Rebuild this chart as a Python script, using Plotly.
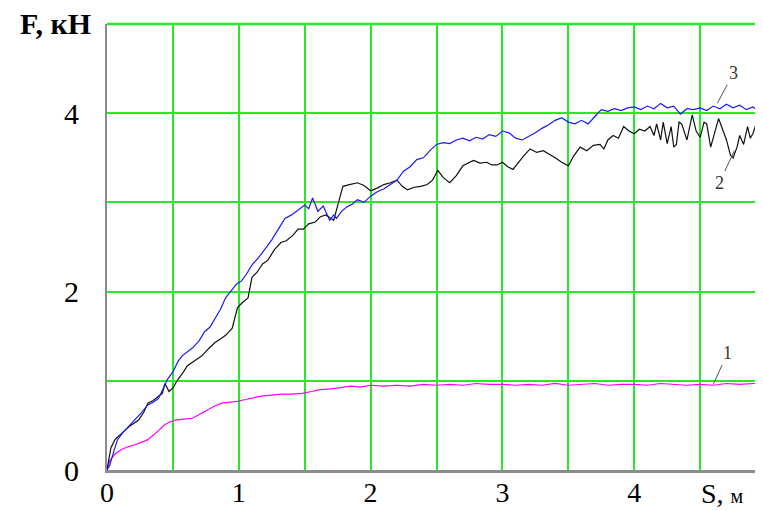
import plotly.graph_objects as go

# Curve 3 (blue)
s3 = [0, 0.02, 0.05, 0.08, 0.12, 0.16, 0.21, 0.26, 0.31, 0.35, 0.39, 0.43, 0.46, 0.5, 0.54, 0.57,
      0.61, 0.65, 0.7, 0.74, 0.78, 0.82, 0.86, 0.9, 0.94, 0.98, 1.02, 1.06, 1.1, 1.15, 1.2, 1.25,
      1.3, 1.35, 1.4, 1.45, 1.5, 1.53, 1.56, 1.6, 1.64, 1.69, 1.72, 1.74, 1.78, 1.82, 1.86, 1.9,
      1.95, 2.0, 2.05, 2.1, 2.15, 2.2, 2.25, 2.3, 2.35, 2.4, 2.45, 2.5, 2.55, 2.6, 2.65, 2.7, 2.75,
      2.8, 2.85, 2.9, 2.95, 3.0, 3.05, 3.1, 3.15, 3.2, 3.25, 3.3, 3.35, 3.4, 3.45, 3.5, 3.55, 3.6,
      3.65, 3.7, 3.75, 3.8, 3.85, 3.9, 3.95, 4.0, 4.05, 4.1, 4.15, 4.2, 4.25, 4.3, 4.35, 4.4, 4.45,
      4.5, 4.55, 4.6, 4.65, 4.7, 4.75, 4.8, 4.85, 4.9, 4.95, 4.98]
f3 = [0, 0.05, 0.2, 0.34, 0.42, 0.48, 0.56, 0.64, 0.73, 0.76, 0.8, 0.92, 1.02, 1.1, 1.22, 1.28,
      1.32, 1.37, 1.45, 1.55, 1.6, 1.7, 1.8, 1.93, 2.0, 2.08, 2.12, 2.2, 2.3, 2.38, 2.48, 2.58,
      2.7, 2.82, 2.86, 2.92, 2.97, 2.93, 3.05, 2.9, 2.96, 2.8, 2.86, 2.82, 2.9, 2.95, 2.98, 3.03,
      3.0, 3.07, 3.12, 3.15, 3.2, 3.25, 3.35, 3.4, 3.48, 3.5, 3.58, 3.65, 3.67, 3.66, 3.7, 3.72, 3.69,
      3.73, 3.71, 3.76, 3.74, 3.8, 3.78, 3.72, 3.7, 3.74, 3.78, 3.83, 3.87, 3.92, 3.95, 3.9, 3.88, 3.92,
      3.88, 3.96, 4.04, 4.02, 4.05, 4.03, 4.06, 4.07, 4.04, 4.08, 4.05, 4.11, 4.06, 4.08, 3.99, 4.05, 4.04,
      4.06, 4.03, 4.08, 4.05, 4.1, 4.06, 4.09, 4.04, 4.07, 4.02, 4.04]

# Curve 2 (black)
s2 = [0, 0.01, 0.03, 0.06, 0.1, 0.14, 0.18, 0.24, 0.28, 0.31, 0.35, 0.39, 0.42, 0.44, 0.47, 0.5,
      0.54, 0.58, 0.61, 0.66, 0.72, 0.77, 0.82, 0.86, 0.9, 0.95, 0.99, 1.03, 1.07, 1.1, 1.14, 1.18,
      1.22, 1.27, 1.32, 1.36, 1.41, 1.45, 1.49, 1.53, 1.58, 1.62, 1.66, 1.7, 1.72, 1.76, 1.79, 1.84,
      1.9, 1.95, 2.0, 2.05, 2.1, 2.15, 2.2, 2.24, 2.28, 2.33, 2.38, 2.43, 2.47, 2.51, 2.55, 2.6, 2.65,
      2.7, 2.74, 2.78, 2.83, 2.88, 2.92, 2.96, 3.0, 3.04, 3.08, 3.12, 3.16, 3.21, 3.26, 3.31, 3.36,
      3.4, 3.45, 3.5, 3.54, 3.59, 3.64, 3.69, 3.74, 3.77, 3.8, 3.84, 3.88, 3.92, 3.96, 4.0, 4.04, 4.08,
      4.12, 4.15, 4.17, 4.2, 4.22, 4.25, 4.28, 4.3, 4.32, 4.34, 4.36, 4.4, 4.44, 4.47, 4.5, 4.53, 4.55,
      4.58, 4.61, 4.64, 4.67, 4.7, 4.73, 4.75, 4.78, 4.8, 4.83, 4.86, 4.88, 4.9, 4.93, 4.96, 4.98]
f2 = [0, 0.1, 0.25, 0.34, 0.4, 0.45, 0.5, 0.56, 0.65, 0.75, 0.78, 0.82, 0.86, 0.97, 0.88, 0.92,
      1.02, 1.1, 1.17, 1.22, 1.28, 1.36, 1.43, 1.47, 1.51, 1.59, 1.82, 1.88, 1.93, 2.16, 2.22, 2.31,
      2.35, 2.47, 2.55, 2.57, 2.63, 2.7, 2.7, 2.76, 2.78, 2.84, 2.86, 2.82, 2.8, 3.02, 3.18, 3.2,
      3.22, 3.19, 3.13, 3.16, 3.2, 3.22, 3.25, 3.18, 3.14, 3.17, 3.18, 3.2, 3.25, 3.36, 3.28, 3.22, 3.3,
      3.41, 3.44, 3.47, 3.44, 3.45, 3.42, 3.42, 3.45, 3.4, 3.37, 3.45, 3.52, 3.6, 3.56, 3.58, 3.54,
      3.5, 3.45, 3.41, 3.52, 3.62, 3.58, 3.64, 3.65, 3.6, 3.7, 3.75, 3.72, 3.85, 3.8, 3.77, 3.82, 3.8,
      3.85, 3.75, 3.88, 3.7, 3.9, 3.66, 3.85, 3.62, 3.65, 3.9, 3.88, 3.7, 3.98, 3.8, 3.73, 3.9, 3.88,
      3.62, 3.78, 3.94, 3.82, 3.7, 3.53, 3.5, 3.62, 3.75, 3.65, 3.85, 3.72, 3.77, 3.9, 3.93, 3.8]

# Curve 1 (magenta)
s1 = [0, 0.02, 0.06, 0.11, 0.16, 0.21, 0.26, 0.31, 0.36, 0.4, 0.44, 0.48, 0.52, 0.58, 0.65, 0.71,
      0.77, 0.82, 0.87, 0.93, 0.99, 1.05, 1.12, 1.18, 1.25, 1.32, 1.4, 1.48, 1.55, 1.62, 1.7, 1.78,
      1.85, 1.92, 2.0, 2.1, 2.2, 2.3, 2.4, 2.5, 2.6, 2.7, 2.8, 2.9, 3.0, 3.1, 3.2, 3.3, 3.4, 3.5,
      3.6, 3.7, 3.8, 3.9, 4.0, 4.1, 4.2, 4.3, 4.4, 4.5, 4.6, 4.7, 4.8, 4.9, 4.98]
f1 = [0, 0.1, 0.18, 0.23, 0.26, 0.28, 0.31, 0.34, 0.4, 0.46, 0.51, 0.54, 0.56, 0.57, 0.58, 0.63,
      0.68, 0.72, 0.75, 0.76, 0.77, 0.79, 0.81, 0.83, 0.84, 0.85, 0.85, 0.86, 0.88, 0.9, 0.91, 0.93,
      0.94, 0.93, 0.95, 0.94, 0.95, 0.94, 0.96, 0.95, 0.96, 0.95, 0.97, 0.96, 0.96, 0.95, 0.96, 0.95,
      0.97, 0.95, 0.96, 0.97, 0.95, 0.96, 0.96, 0.95, 0.97, 0.96, 0.95, 0.96, 0.95, 0.97, 0.96, 0.97, 0.97]

x_grid = [0, 0.5, 1, 1.5, 2, 2.5, 3, 3.5, 4, 4.5]
x_text = ["0", "", "1", "", "2", "", "3", "", "4", ""]
y_grid = [0, 1, 2, 3, 4, 5]
y_text = ["0", "", "2", "", "4", ""]

SERIF = "Liberation Serif, Times New Roman, serif"
GRID = "rgb(40,232,40)"

fig = go.Figure()
fig.add_trace(go.Scatter(x=s1, y=f1, mode="lines", line=dict(color="#ff00ff", width=1.2)))
fig.add_trace(go.Scatter(x=s2, y=f2, mode="lines", line=dict(color="#111111", width=1.2)))
fig.add_trace(go.Scatter(x=s3, y=f3, mode="lines", line=dict(color="#1a1aff", width=1.2)))

# the page body adds an 8px offset, so the figure is sized to fill the visible window
fig.update_layout(
    width=755, height=503,
    margin=dict(l=99, r=0, t=16, b=41, autoexpand=False),
    paper_bgcolor="white", plot_bgcolor="white",
    showlegend=False,
    font=dict(family=SERIF, color="black"),
    xaxis=dict(range=[0, 4.977], tickvals=x_grid, ticktext=x_text, automargin=False,
               showgrid=True, gridcolor=GRID, gridwidth=1.5,
               zeroline=False, showline=True, linecolor="#8c8c8c", linewidth=3,
               ticks="", tickfont=dict(size=28, family=SERIF), ticklabelstandoff=-5),
    yaxis=dict(range=[0, 5], tickvals=y_grid, ticktext=y_text, automargin=False,
               showgrid=True, gridcolor=GRID, gridwidth=1.5,
               zeroline=False, showline=True, linecolor="#8c8c8c", linewidth=2,
               ticks="", tickfont=dict(size=30, family=SERIF), ticklabelstandoff=20),
)

# top border (green)
fig.add_shape(type="line", xref="paper", yref="paper", x0=0, x1=1, y0=1, y1=1,
              line=dict(color=GRID, width=2.5))

fig.add_annotation(text="<b>F, кН</b>", xref="paper", yref="paper", x=0, y=1,
                   xanchor="center", yanchor="middle", xshift=-52, yshift=1, borderpad=0,
                   showarrow=False, font=dict(size=30, family=SERIF))
fig.add_annotation(text="S, <span style='font-size:20px'>м</span>", xref="x", yref="paper",
                   x=4.5, y=0, xanchor="left", yanchor="middle", yshift=-23, borderpad=0,
                   showarrow=False, font=dict(size=28, family=SERIF))

lbl = dict(size=18, family=SERIF, color="#333333")
fig.add_annotation(text="3", x=4.63, y=4.11, ax=16, ay=-30, showarrow=True, arrowhead=0,
                   arrowwidth=1, arrowcolor="#555555", standoff=0, font=lbl)
fig.add_annotation(text="2", x=4.76, y=3.58, ax=-15, ay=32, showarrow=True, arrowhead=0,
                   arrowwidth=1, arrowcolor="#555555", standoff=0, font=lbl)
fig.add_annotation(text="1", x=4.6, y=0.96, ax=14, ay=-31, showarrow=True, arrowhead=0,
                   arrowwidth=1, arrowcolor="#555555", standoff=0, font=lbl)

fig.write_html("out.html")
